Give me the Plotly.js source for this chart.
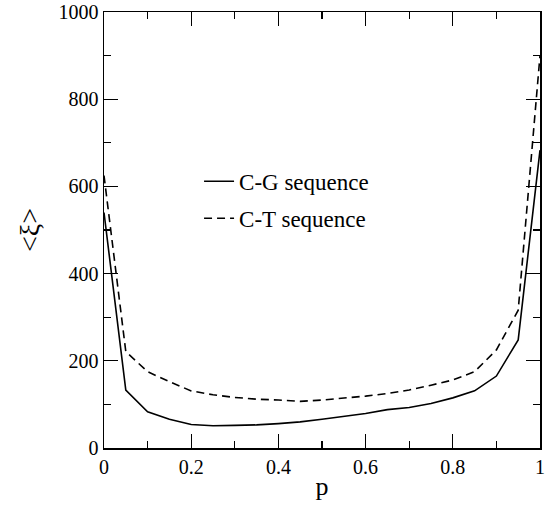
<!DOCTYPE html>
<html>
<head>
<meta charset="utf-8">
<script src="https://cdn.plot.ly/plotly-3.0.1.min.js"></script>
<style>
html,body{margin:0;padding:0;background:#fff;}
#chart{width:548px;height:506px;}
</style>
</head>
<body>
<div id="chart"></div>
<script>
const p = [0, 0.05, 0.1, 0.15, 0.2, 0.25, 0.3, 0.35, 0.4, 0.45, 0.5, 0.55, 0.6, 0.65, 0.7, 0.75, 0.8, 0.85, 0.9, 0.95, 1];
const cgSeq = [540, 133, 83, 66, 54, 51, 52, 53, 56, 60, 66, 72, 79, 88, 93, 102, 115, 131, 165, 248, 683];
const ctSeq = [625, 221, 175, 152, 131, 122, 116, 112, 110, 107, 110, 114, 119, 125, 133, 144, 156, 175, 225, 316, 900];
const seriesNames = ["C-G sequence", "C-T sequence"];
const xTitle = "p";
const yTitle = "<ξ>";

const FAM = "serif";
const traces = [
  {x: p, y: cgSeq, name: seriesNames[0], mode: "lines", legend: "legend", line: {color: "#000", width: 1.6}},
  {x: p, y: ctSeq, name: seriesNames[1], mode: "lines", legend: "legend2", line: {color: "#000", width: 1.6, dash: "8px,5px"}}
];
const minorX = {dtick: 0.1, ticks: "inside", ticklen: 7, tickcolor: "#000", tickwidth: 1.2};
const minorY = {dtick: 100, ticks: "inside", ticklen: 7, tickcolor: "#000", tickwidth: 1.2};
const layout = {
  width: 548, height: 506,
  margin: {l: 104, r: 8, t: 12, b: 58},
  font: {family: FAM, color: "#000", size: 20},
  showlegend: true,
  legend: {x: 0.218, y: 0.661, xanchor: "left", yanchor: "top", bgcolor: "rgba(0,0,0,0)", font: {family: FAM, size: 23, color: "#000"}},
  legend2: {x: 0.218, y: 0.576, xanchor: "left", yanchor: "top", bgcolor: "rgba(0,0,0,0)", font: {family: FAM, size: 23, color: "#000"}},
  xaxis: {
    range: [0, 1], dtick: 0.2, tick0: 0,
    showgrid: false, zeroline: false, showline: true, linecolor: "#000", linewidth: 1.5,
    mirror: "ticks", ticks: "inside", ticklen: 14, tickwidth: 1.2, tickcolor: "#000",
    tickfont: {family: FAM, size: 20, color: "#000"},
    minor: minorX,
    title: {text: xTitle, font: {family: FAM, size: 26, color: "#000"}, standoff: 0}
  },
  yaxis: {
    range: [0, 1000], dtick: 200, tick0: 0,
    showgrid: false, zeroline: false, showline: true, linecolor: "#000", linewidth: 1.5,
    mirror: "ticks", ticks: "inside", ticklen: 14, tickwidth: 1.2, tickcolor: "#000",
    tickfont: {family: FAM, size: 20, color: "#000"},
    minor: minorY,
    title: {text: yTitle, font: {family: FAM, size: 28, color: "#000"}, standoff: 10}
  }
};
Plotly.newPlot("chart", traces, layout, {displayModeBar: false, staticPlot: true});
</script>
</body>
</html>
